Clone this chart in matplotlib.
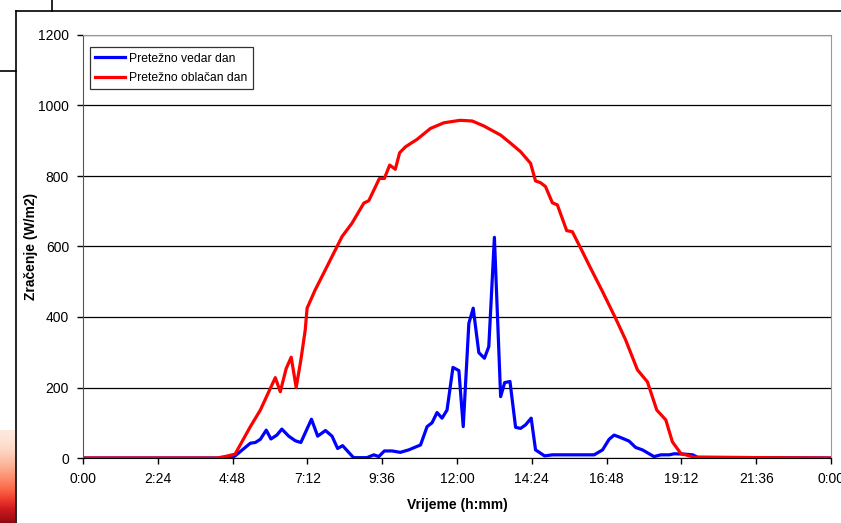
import matplotlib
matplotlib.use("Agg")
from matplotlib import pyplot as plt
from matplotlib.lines import Line2D
import numpy as np

plt.rcParams['font.family'] = ['Liberation Sans', 'DejaVu Sans']

# time of day in hours, radiation in W/m2
vedar_t = [0, 4.72, 4.88, 5.37, 5.53, 5.69, 5.88, 6.03, 6.22, 6.38, 6.60, 6.81, 6.99,
           7.33, 7.53, 7.78, 7.99, 8.17, 8.33, 8.68, 9.11, 9.33, 9.49, 9.67, 9.92,
           10.18, 10.45, 10.83, 11.04, 11.20, 11.36, 11.52, 11.68, 11.87, 12.06, 12.20,
           12.38, 12.52, 12.70, 12.88, 13.02, 13.20, 13.40, 13.53, 13.70, 13.88, 14.04,
           14.20, 14.38, 14.52, 14.81, 15.06, 16.40, 16.67, 16.88, 17.04, 17.25, 17.52,
           17.73, 17.95, 18.32, 18.54, 18.81, 18.97, 19.29, 19.56, 19.72, 24]
vedar_v = [0, 0, 6, 42, 44, 53, 79, 54, 65, 82, 62, 49, 44,
           110, 62, 78, 62, 27, 35, 1, 1, 9, 4, 20, 20,
           16, 23, 37, 89, 100, 129, 113, 136, 257, 248, 89,
           382, 425, 299, 283, 316, 626, 174, 214, 217, 87, 84,
           94, 113, 23, 6, 9, 9, 23, 53, 65, 58, 48,
           30, 23, 4, 9, 9, 12, 11, 9, 2, 0]

oblacan_t = [0, 4.3, 4.6, 4.88, 5.37, 5.69, 6.17, 6.33, 6.52, 6.68, 6.84, 6.99, 7.13,
             7.19, 7.45, 7.72, 8.31, 8.63, 9.01, 9.17, 9.51, 9.67, 9.84, 10.02, 10.16,
             10.35, 10.72, 11.15, 11.58, 12.10, 12.49, 12.86, 13.40, 13.72, 14.04, 14.36,
             14.52, 14.68, 14.84, 15.06, 15.22, 15.52, 15.70, 15.97, 16.29, 16.67, 17.09,
             17.41, 17.79, 18.11, 18.41, 18.70, 18.91, 19.18, 19.61, 24]
oblacan_v = [0, 0, 5, 11, 89, 136, 228, 188, 254, 286, 200, 278, 363,
             425, 477, 524, 628, 666, 723, 730, 793, 793, 831, 819, 866,
             883, 904, 935, 951, 958, 956, 942, 916, 893, 869, 836,
             786, 781, 770, 724, 718, 645, 642, 595, 538, 472, 396,
             335, 250, 216, 136, 108, 46, 13, 2, 0]

x_ticks = [0, 2.4, 4.8, 7.2, 9.6, 12, 14.4, 16.8, 19.2, 21.6, 24]
x_labels = ["0:00", "2:24", "4:48", "7:12", "9:36", "12:00", "14:24",
            "16:48", "19:12", "21:36", "0:00"]
y_ticks = [0, 200, 400, 600, 800, 1000, 1200]

fig = plt.figure(figsize=(8.41, 5.23), dpi=100)
ax = fig.add_axes([83/841, 65/523, 748/841, 423/523])

ax.plot(vedar_t, vedar_v, color="#0000ff", lw=2.3, label="Pretežno vedar dan")
ax.plot(oblacan_t, oblacan_v, color="#ff0000", lw=2.3, label="Pretežno oblačan dan")

ax.set_xlim(0, 24)
ax.set_ylim(0, 1200)
ax.set_xticks(x_ticks)
ax.set_xticklabels(x_labels)
ax.set_yticks(y_ticks)
ax.tick_params(direction="out", length=4, width=1, labelsize=10, pad=6)
ax.yaxis.grid(True, color="black", lw=0.9)
ax.set_axisbelow(True)

for s in ["top", "right"]:
    ax.spines[s].set_color("#999999")
ax.spines["left"].set_color("#555555")
ax.spines["bottom"].set_color("black")

ax.set_xlabel("Vrijeme (h:mm)", fontsize=10, fontweight="bold", labelpad=9)
ax.set_ylabel("Zračenje (W/m2)", fontsize=10, fontweight="bold", labelpad=0)

leg = ax.legend(loc="upper left", bbox_to_anchor=(0.009, 0.971), fontsize=8.7,
                frameon=True, fancybox=False, handlelength=2.5, handletextpad=0.3,
                borderpad=0.45, labelspacing=0.6, borderaxespad=0)
leg.get_frame().set_edgecolor("black")
leg.get_frame().set_linewidth(0.9)

# frame pieces around the chart (screenshot borders)
W, H = 841, 523
def px_line(x0, y0, x1, y1, **kw):
    fig.add_artist(Line2D([x0/W, x1/W], [1 - y0/H, 1 - y1/H], **kw))

px_line(16, 11, W, 11, color="black", lw=1.2)
px_line(16, 11, 16, H, color="black", lw=1.2)
px_line(52, 0, 52, 11, color="black", lw=1.2)
px_line(0, 71, 16, 71, color="black", lw=1.2)

# reddish strip at bottom left
grad = fig.add_axes([0, 0, 15/W, 93/H])
g = np.linspace(0, 1, 60).reshape(-1, 1) ** 1.5
grad.imshow(g, aspect="auto", cmap="Reds", vmin=-0.1, vmax=1.1, origin="upper")
grad.axis("off")

plt.savefig("out.png", dpi=100)
